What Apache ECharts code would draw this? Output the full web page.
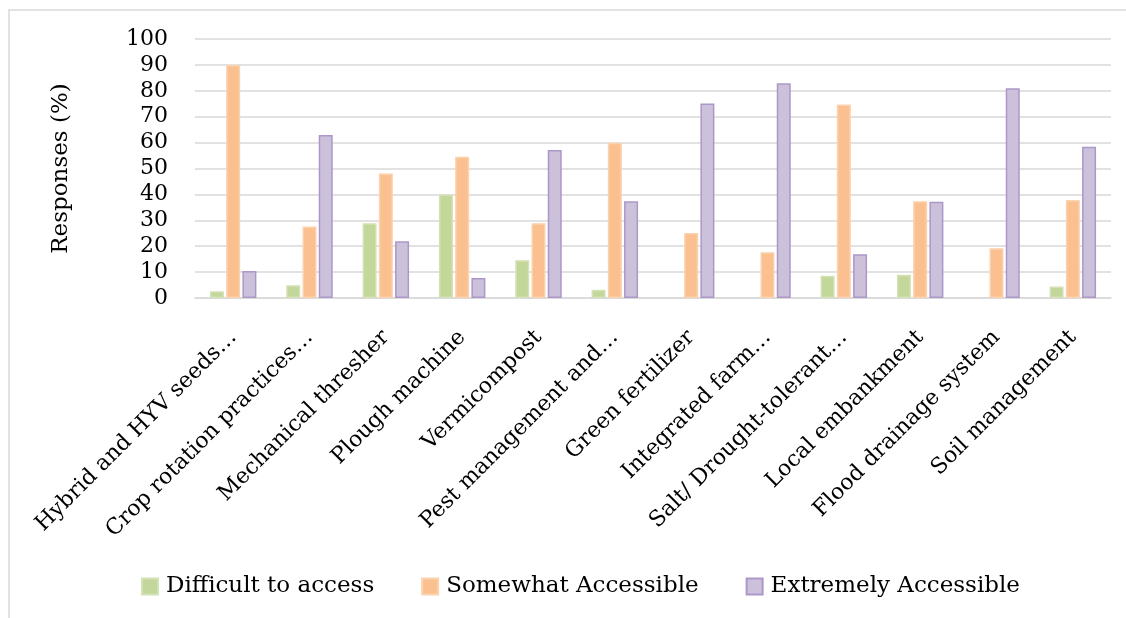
<!DOCTYPE html>
<html>
<head>
<meta charset="utf-8">
<script src="https://cdn.jsdelivr.net/npm/echarts@6/dist/echarts.min.js"></script>
<style>
  html, body { margin: 0; padding: 0; background: #fff; }
  #chart { width: 1126px; height: 618px; }
</style>
</head>
<body>
<div id="chart"></div>
<script>
const categories = [
  'Hybrid and HYV seeds…', 'Crop rotation practices…', 'Mechanical thresher',
  'Plough machine', 'Vermicompost', 'Pest management and…', 'Green fertilizer',
  'Integrated farm…', 'Salt/ Drought-tolerant…', 'Local embankment',
  'Flood drainage system', 'Soil management'
];
const difficult = [2.6, 4.9, 28.9, 40, 14.6, 3.2, 0, 0, 8.6, 9.0, 0, 4.4];
const somewhat = [90, 27.6, 48.1, 54.5, 28.9, 59.9, 25.1, 17.7, 74.7, 37.4, 19.2, 37.8];
const extremely = [10.4, 62.9, 21.9, 7.7, 57.1, 37.4, 75.1, 82.9, 16.9, 37.2, 81, 58.4];
const yTicks = [0, 10, 20, 30, 40, 50, 60, 70, 80, 90, 100];

const font = 'DejaVu Serif';
const chart = echarts.init(document.getElementById('chart'));

// zero bars would still show their border, so leave them empty
const makeSeries = (name, data, fill, border) => ({
  name,
  type: 'bar',
  data: data.map(v => (v === 0 ? null : v)),
  barWidth: 14,
  barGap: '16%',
  itemStyle: { color: fill, borderColor: border, borderWidth: 1.5 }
});

chart.setOption({
  animation: false,
  textStyle: { fontFamily: font },
  graphic: [{
    type: 'rect',
    shape: { x: 9, y: 10, width: 1300, height: 800 },
    style: { fill: 'none', stroke: '#d9d9d9', lineWidth: 1.5 },
    silent: true
  }],
  grid: { left: 195, right: 15, top: 39, bottom: 320 },
  legend: {
    top: 570,
    left: 136,
    icon: 'rect',
    itemWidth: 16,
    itemHeight: 16,
    itemGap: 47,
    textStyle: { fontFamily: font, fontSize: 23, color: '#000', padding: [0, 0, 0, 3] },
    data: ['Difficult to access', 'Somewhat Accessible', 'Extremely Accessible']
  },
  xAxis: {
    type: 'category',
    data: categories,
    axisLine: { lineStyle: { color: '#d9d9d9', width: 1.5 } },
    axisTick: { show: false },
    axisLabel: {
      interval: 0,
      rotate: 45,
      margin: 36,
      fontFamily: font,
      fontSize: 22,
      color: '#000'
    }
  },
  yAxis: {
    type: 'value',
    min: yTicks[0],
    max: yTicks[yTicks.length - 1],
    interval: 10,
    name: 'Responses (%)',
    nameLocation: 'middle',
    nameGap: 122,
    nameTextStyle: { fontFamily: font, fontSize: 23, color: '#000' },
    axisLine: { show: false },
    axisTick: { show: false },
    axisLabel: { margin: 27, fontFamily: font, fontSize: 22, color: '#000' },
    splitLine: { lineStyle: { color: '#d9d9d9', width: 1.5 } }
  },
  series: [
    makeSeries('Difficult to access', difficult, '#c4d79b', '#d3e1b6'),
    makeSeries('Somewhat Accessible', somewhat, '#fac090', '#fcd1ad'),
    makeSeries('Extremely Accessible', extremely, '#ccc1da', '#ac98c8')
  ]
});
</script>
</body>
</html>
